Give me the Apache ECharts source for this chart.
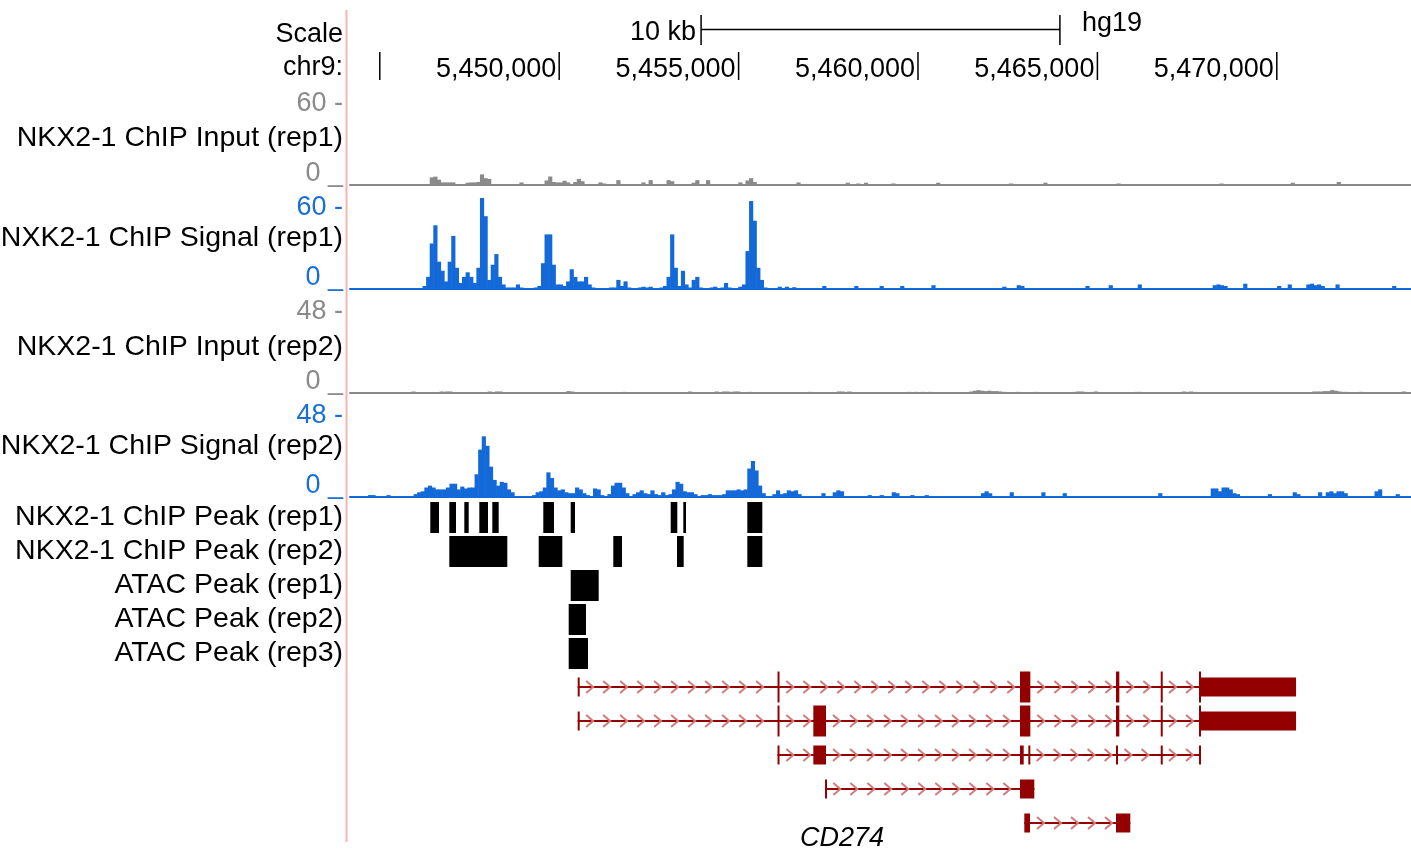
<!DOCTYPE html>
<html><head><meta charset="utf-8">
<script src="https://cdn.jsdelivr.net/npm/echarts@6/dist/echarts.min.js"></script>
<style>html,body{margin:0;padding:0;background:#fff}#c{width:1411px;height:854px}</style>
</head><body><div id="c"></div>
<script>
// ---------------- DATA ----------------
const VIEW_START = 5444170, VIEW_END = 5473740;   // chr9 window (hg19)
const BIN = 100;                                   // signal bin size, bp
const chromLabel = 'chr9:';
const assembly = 'hg19';
const rulerTicks  = [5445000, 5450000, 5455000, 5460000, 5465000, 5470000];
const rulerLabels = ['', '5,450,000', '5,455,000', '5,460,000', '5,465,000', '5,470,000'];
const scaleBar = [5453955, 5463955];
const scaleBarLabel = '10 kb';

const trackNames = ['NKX2-1 ChIP Input (rep1)', 'NXK2-1 ChIP Signal (rep1)', 'NKX2-1 ChIP Input (rep2)', 'NKX2-1 ChIP Signal (rep2)'];
const trackMax = [60, 60, 48, 48];
const trackMaxLabels = ['60 -', '60 -', '48 -', '48 -'];
const trackZeroLabels = ['0 _', '0 _', '0 _', '0 _'];

// runs: [start position, [bin values...]] (100 bp bins)
const input1Runs = [
  [5446400, [5, 5.5, 3.5, 1.7, 1.7, 1.7, 1.7]],
  [5447400, [1.5, 1.7, 1.7, 2, 7, 4.5, 4]],
  [5448900, [1.7]],
  [5449600, [3, 5.6, 2, 1.7, 1.7, 2.8, 1.7, 0.6, 2, 4, 2.5]],
  [5451100, [1.7, 1]],
  [5451600, [3.2]],
  [5452300, [1.7, 0, 3.2]],
  [5453000, [3.2, 2.5]],
  [5453700, [1.5, 3.2, 0, 0, 3.2]],
  [5455000, [1.7, 0, 3, 4.5, 2]],
  [5456620, [1.7]], [5457994, [1.5]], [5458286, [1]], [5458503, [1.5]], [5459264, [1]],
  [5460513, [1.5]], [5462545, [1]], [5463501, [1.5]], [5465541, [1]], [5468409, [1]],
  [5470396, [1.5]], [5471678, [2]]
];

const signal1Runs = [
  [5446200, [2, 8, 30, 42, 18, 12, 5, 18, 35, 14, 4, 8, 11, 8, 4, 14, 60, 48, 6, 16,
             23, 8, 3, 1, 1, 1, 3, 1, 0, 0, 0, 1, 2, 17, 36, 36, 16, 3, 3, 2,
             5, 13, 8, 5, 5, 8, 3, 1, 0, 0, 0, 0, 1, 1, 6, 2, 5, 1, 0, 0,
             1, 1.5, 1, 1.5, 0, 0, 1, 2, 8, 36, 14, 2, 12, 3, 1, 6, 8, 1, 0, 0,
             1, 1.5, 0, 1, 4, 1, 0, 0, 1.5, 3, 25, 58, 45, 14, 6, 1]],
  [5456098, [1.5]], [5456300, [1.5]], [5456500, [1.2]], [5457341, [2]], [5458233, [2]],
  [5458938, [2]], [5459512, [2]], [5460382, [2.5]], [5462358, [1.5]], [5462759, [2.5, 2]],
  [5464674, [2]], [5465323, [2.5]], [5466132, [3]], [5468222, [2.5, 3, 2.5, 2]],
  [5469072, [3.5]], [5470017, [2]], [5470312, [3]], [5470830, [3, 3.5, 2.5, 3, 2]],
  [5471644, [3]], [5473222, [2]]
];

const input2Runs = [
  [5445890, [0.8]], [5446678, [0.8]], [5446818, [0.8, 0.8]], [5448016, [0.8, 0.5, 0.8, 0.8, 0.5]],
  [5450210, [1, 0.8]], [5451770, [0.6]], [5453598, [0.8]],
  [5454343, [0.8, 0.5, 0.8, 0.8, 0.6, 0.8, 0.8]], [5455271, [0.6]], [5456943, [0.6]],
  [5457743, [0.8, 0.8, 0.6, 0.8]], [5459694, [0.6, 0, 0.6, 0, 0.6, 0, 0.6]],
  [5461436, [0.8, 1.2, 1.5, 1.2, 1, 1.2, 1, 1, 0.8, 0.6]], [5462731, [0.6]], [5463233, [0.6]],
  [5464314, [0.6, 0.8, 0.8, 0.6, 0, 0.6, 0.8]], [5466048, [0.6, 0.6]], [5467358, [0.8, 0.6, 0.8, 0.6]],
  [5468445, [0.5]], [5469690, [0.5]], [5470070, [0.5]],
  [5470995, [0.8, 0.8, 0.8, 1, 1, 1.5, 1.2, 0.8, 0.6, 0.6]], [5472291, [0.6]], [5473489, [0.8]]
];

const signal2Runs = [
  [5444680, [1]], [5444775, [1]], [5445193, [1]],
  [5445950, [1.5, 2.5, 3, 5, 6, 5, 4, 4, 4, 5, 7, 7, 4, 5.5, 4.5, 5, 5, 12, 25, 32,
             27, 16, 9, 6, 8, 7.5, 4, 2.5, 0.5, 0.5, 0.5, 0.5, 0.5, 1, 2.5, 3, 5, 13, 10, 5,
             3.5, 4, 2.5, 2, 2, 5, 4, 2, 1, 0.5, 4.5, 4, 1, 0.5, 1.5, 6, 7.5, 7.5, 5, 2,
             0.5, 1.5, 2.5, 3.5, 2, 1.5, 3.5, 1.5, 1, 2.5, 1, 1.5, 4, 8, 7, 3, 2.5, 2.5, 1.5, 0.5,
             1, 1, 1.5, 1, 1, 1, 1.5, 3.5, 3.5, 3.5, 4, 3.5, 4, 15, 19, 14, 6, 2, 0.5, 0.5,
             1.5, 3.5, 1.5, 2, 3.5, 3, 3.5, 1.5, 0.5]],
  [5457316, [2]], [5457631, [2.5, 3.5, 3]], [5458606, [1]], [5458940, [1]], [5459276, [2.5, 2]],
  [5459794, [1]], [5460194, [1]], [5461762, [2, 3, 2]], [5462564, [2.5]], [5463445, [2.5]],
  [5464040, [2]], [5466703, [2]], [5468166, [4.5, 4.5, 3, 5, 5, 4, 2, 1.5]], [5469758, [1.5]],
  [5470451, [2.5, 1.5]], [5471157, [2.5]], [5471371, [2.5, 3, 2, 3, 3, 2]], [5472731, [3, 4]],
  [5473321, [1.5]]
];

const peakTrackNames = ['NKX2-1 ChIP Peak (rep1)', 'NKX2-1 ChIP Peak (rep2)', 'ATAC Peak (rep1)', 'ATAC Peak (rep2)', 'ATAC Peak (rep3)'];
const chipPeaksRep1 = [[5446408, 5446650], [5446938, 5447124], [5447356, 5447478], [5447774, 5448016],
  [5448136, 5448314], [5449557, 5449856], [5450321, 5450441], [5453108, 5453292], [5453459, 5453535], [5455243, 5455661]];
const chipPeaksRep2 = [[5446938, 5448554], [5449429, 5450087], [5451508, 5451751], [5453284, 5453470], [5455243, 5455661]];
const atacPeaksRep1 = [[5450321, 5451101]];
const atacPeaksRep2 = [[5450265, 5450747]];
const atacPeaksRep3 = [[5450265, 5450803]];

const geneName = 'CD274';
// exons: [start, end, kind] kind: 'cds' (tall) | 'utr' (short)
const transcripts = [
  {row: 0, start: 5450516, end: 5470536, exons: [[5450516, 5450556, 'utr'], [5456085, 5456135, 'cds'],
    [5462843, 5463131, 'cds'], [5465519, 5465611, 'cds'], [5466765, 5466801, 'cds'], [5467832, 5467868, 'cds'], [5467868, 5470536, 'utr']]},
  {row: 1, start: 5450516, end: 5470536, exons: [[5450516, 5450556, 'utr'], [5456085, 5456135, 'cds'], [5457083, 5457436, 'cds'],
    [5462843, 5463131, 'cds'], [5465519, 5465611, 'cds'], [5466765, 5466801, 'cds'], [5467832, 5467868, 'cds'], [5467868, 5470536, 'utr']]},
  {row: 2, start: 5456085, end: 5467868, exons: [[5456085, 5456135, 'utr'], [5457083, 5457436, 'utr'], [5462843, 5462946, 'utr'],
    [5463075, 5463110, 'utr'], [5465519, 5465560, 'utr'], [5466765, 5466800, 'utr'], [5467832, 5467868, 'utr']]},
  {row: 3, start: 5457409, end: 5463242, exons: [[5457409, 5457445, 'utr'], [5462843, 5463242, 'utr']]},
  {row: 4, start: 5462963, end: 5465917, exons: [[5462963, 5463122, 'utr'], [5465519, 5465917, 'utr']]}
];

// ---------------- LAYOUT / STYLE ----------------
const FF = "'Liberation Sans', Arial, Helvetica, sans-serif";
const FONT = "27px " + FF;
const NAME_FONT = "28.5px " + FF;
const GRID_LEFT = 350;
const trackTops = [94, 198, 302, 406];
const nameOffsets = [44, 40, 45, 40];
const TRACK_H = 91;
const trackColors = ['#8a8a8a', '#1469d8', '#8a8a8a', '#1469d8'];
const trackLabelColors = ['#8a8a8a', '#1a6fd6', '#8a8a8a', '#1a6fd6'];
const GENE_DARK = '#920000';
const GENE_LIGHT = '#d27a7a';

function expand(runs) {
  const out = [];
  runs.forEach(r => r[1].forEach((v, i) => { if (v > 0) out.push([r[0] + i * BIN, r[0] + (i + 1) * BIN, v]); }));
  return out;
}
const signalData = [input1Runs, signal1Runs, input2Runs, signal2Runs].map(expand);

const grids = [], xAxes = [], yAxes = [], series = [];
// grid 0: ruler
grids.push({left: GRID_LEFT, right: 0, top: 0, height: 90});
xAxes.push({gridIndex: 0, type: 'value', min: VIEW_START, max: VIEW_END, show: false});
yAxes.push({gridIndex: 0, type: 'value', min: 0, max: 1, show: false});

// signal grids 1..4
for (let k = 0; k < 4; k++) {
  grids.push({left: GRID_LEFT, right: 0, top: trackTops[k], height: TRACK_H});
  xAxes.push({gridIndex: k + 1, type: 'value', min: VIEW_START, max: VIEW_END,
    axisLine: {show: true, onZero: true, lineStyle: {color: trackColors[k], width: 2}},
    axisTick: {show: false}, axisLabel: {show: false}, splitLine: {show: false}});
  yAxes.push({gridIndex: k + 1, type: 'value', min: 0, max: trackMax[k], show: false});
  const color = trackColors[k];
  series.push({
    type: 'custom', xAxisIndex: k + 1, yAxisIndex: k + 1, data: signalData[k], clip: true,
    encode: {x: [0, 1], y: 2},
    renderItem(params, api) {
      const cs = params.coordSys;
      const p0 = api.coord([api.value(0), 0]);
      const p1 = api.coord([api.value(1), api.value(2)]);
      const top = Math.max(p1[1], cs.y);
      return {type: 'rect', shape: {x: p0[0] - 0.3, y: top, width: Math.max(p1[0] - p0[0], 1) + 0.6, height: p0[1] - top},
        style: {fill: color}};
    }
  });
}

// grid 5: peaks
grids.push({left: GRID_LEFT, right: 0, top: 500, height: 170});
xAxes.push({gridIndex: 5, type: 'value', min: VIEW_START, max: VIEW_END, show: false});
yAxes.push({gridIndex: 5, type: 'category', data: peakTrackNames, inverse: true,
  axisLine: {show: false}, axisTick: {show: false}, splitLine: {show: false},
  axisLabel: {interval: 0, margin: 7, color: '#000', fontSize: 28.5, fontFamily: FF}});
const peakData = [];
[chipPeaksRep1, chipPeaksRep2, atacPeaksRep1, atacPeaksRep2, atacPeaksRep3].forEach((arr, row) =>
  arr.forEach(p => peakData.push([p[0], p[1], row])));
series.push({
  type: 'custom', xAxisIndex: 5, yAxisIndex: 5, data: peakData, encode: {x: [0, 1], y: 2},
  renderItem(params, api) {
    const p0 = api.coord([api.value(0), api.value(2)]);
    const p1 = api.coord([api.value(1), api.value(2)]);
    return {type: 'rect', shape: {x: p0[0], y: p0[1] - 15, width: Math.max(p1[0] - p0[0], 2), height: 31},
      style: {fill: '#000'}};
  }
});

// grid 6: genes
grids.push({left: GRID_LEFT, right: 0, top: 670, height: 170});
xAxes.push({gridIndex: 6, type: 'value', min: VIEW_START, max: VIEW_END, show: false});
yAxes.push({gridIndex: 6, type: 'category', data: ['0', '1', '2', '3', '4'], inverse: true, show: false});
series.push({
  type: 'custom', xAxisIndex: 6, yAxisIndex: 6, clip: false,
  data: transcripts.map(t => [t.start, t.end, t.row]), encode: {x: [0, 1], y: 2},
  renderItem(params, api) {
    const t = transcripts[params.dataIndex];
    const a = api.coord([t.start, t.row]);
    const b = api.coord([t.end, t.row]);
    const yc = a[1];
    const ch = [];
    ch.push({type: 'line', shape: {x1: a[0], y1: yc, x2: b[0], y2: yc}, style: {stroke: GENE_DARK, lineWidth: 2}});
    const ex = t.exons.map(e => [api.coord([e[0], t.row])[0], api.coord([e[1], t.row])[0], e[2]]);
    for (let i = 0; i < ex.length - 1; i++) {
      const g0 = ex[i][1], g1 = ex[i + 1][0];
      for (let x = g0 + 11; x < g1 - 4; x += 17) {
        ch.push({type: 'polyline', shape: {points: [[x - 4, yc - 6], [x + 3, yc], [x - 4, yc + 6]]},
          style: {stroke: GENE_LIGHT, lineWidth: 2, fill: null}});
      }
    }
    ex.forEach(e => {
      const h = e[2] === 'cds' ? 31 : 19;
      ch.push({type: 'rect', shape: {x: e[0], y: yc - h / 2, width: Math.max(e[1] - e[0], 2), height: h},
        style: {fill: GENE_DARK}});
    });
    return {type: 'group', children: ch};
  }
});

// ruler ticks
series.push({
  type: 'custom', xAxisIndex: 0, yAxisIndex: 0, clip: false,
  data: rulerTicks.map((p, i) => [p, i]), encode: {x: 0},
  renderItem(params, api) {
    const x = api.coord([api.value(0), 0])[0];
    const lab = rulerLabels[params.dataIndex];
    const ch = [{type: 'line', shape: {x1: x, y1: 52, x2: x, y2: 80}, style: {stroke: '#000', lineWidth: 1.5}}];
    if (lab) ch.push({type: 'text', style: {text: lab, x: x - 3, y: 70, align: 'right', verticalAlign: 'middle',
      textAlign: 'right', textVerticalAlign: 'middle', font: FONT, fill: '#000'}});
    return {type: 'group', children: ch};
  }
});
// scale bar
series.push({
  type: 'custom', xAxisIndex: 0, yAxisIndex: 0, clip: false,
  data: [[scaleBar[0], scaleBar[1]]], encode: {x: [0, 1]},
  renderItem(params, api) {
    const x0 = api.coord([api.value(0), 0])[0];
    const x1 = api.coord([api.value(1), 0])[0];
    return {type: 'group', children: [
      {type: 'line', shape: {x1: x0, y1: 29.5, x2: x1, y2: 29.5}, style: {stroke: '#000', lineWidth: 1.5}},
      {type: 'line', shape: {x1: x0, y1: 15, x2: x0, y2: 45}, style: {stroke: '#000', lineWidth: 1.5}},
      {type: 'line', shape: {x1: x1, y1: 15, x2: x1, y2: 45}, style: {stroke: '#000', lineWidth: 1.5}},
      {type: 'text', style: {text: scaleBarLabel, x: x0 - 5, y: 33, align: 'right', verticalAlign: 'middle',
        textAlign: 'right', textVerticalAlign: 'middle', font: FONT, fill: '#000'}},
      {type: 'text', style: {text: assembly, x: x1 + 22, y: 24, align: 'left', verticalAlign: 'middle',
        textAlign: 'left', textVerticalAlign: 'middle', font: FONT, fill: '#000'}}
    ]};
  }
});

// left labels
function label(text, x, y, color, align, font) {
  return {type: 'text', style: {text, x, y, fill: color || '#000', font: font || FONT,
    align: align || 'right', verticalAlign: 'middle', textAlign: align || 'right', textVerticalAlign: 'middle'}};
}
const graphics = [
  {type: 'line', shape: {x1: 346.5, y1: 10, x2: 346.5, y2: 842}, style: {stroke: '#f6b3b3', lineWidth: 2}, z: 100},
  label('Scale', 343, 35),
  label(chromLabel, 343, 68)
];
for (let k = 0; k < 4; k++) {
  graphics.push(label(trackMaxLabels[k], 343, trackTops[k] + 9.5, trackLabelColors[k]));
  graphics.push(label(trackNames[k], 343, trackTops[k] + nameOffsets[k], '#000', 'right', NAME_FONT));
  graphics.push(label(trackZeroLabels[k], 343, trackTops[k] + TRACK_H - 11.5, trackLabelColors[k]));
}
graphics.push(label(geneName, 842, 838, '#000', 'center', 'italic ' + FONT));

const chart = echarts.init(document.getElementById('c'), null, {renderer: 'canvas'});
chart.setOption({
  animation: false,
  backgroundColor: '#fff',
  grid: grids, xAxis: xAxes, yAxis: yAxes, series,
  graphic: {elements: graphics}
});
</script></body></html>
